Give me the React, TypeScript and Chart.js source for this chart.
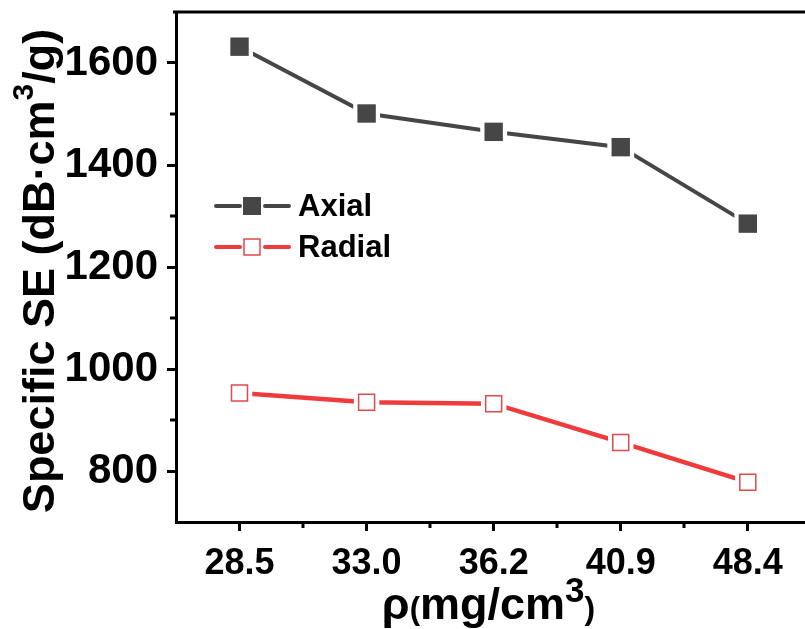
import React, { useEffect, useRef } from "react";
import { Chart, registerables } from "chart.js";

Chart.register(...registerables);

const densities = ["28.5", "33.0", "36.2", "40.9", "48.4"];
const axialSE = [1632, 1501, 1465, 1435, 1285];
const radialSE = [953, 935, 932, 856, 778];
const yMajorTicks = [800, 1000, 1200, 1400, 1600];
const yMinorTicks = [900, 1100, 1300, 1500];
const xMinorTicks = [0.5, 1.5, 2.5, 3.5];
const seriesNames = ["Axial", "Radial"];

const FONT = '"Liberation Sans", Arial, sans-serif';
const AXIAL_COLOR = "#464646";
const RADIAL_LINE = "#ef3b3b";
const RADIAL_MARK = "#e04a4a";

type Run = { text: string; size: number; raise?: number };

function runsWidth(ctx: CanvasRenderingContext2D, runs: Run[]) {
  let w = 0;
  for (const r of runs) {
    ctx.font = `bold ${r.size}px ${FONT}`;
    w += ctx.measureText(r.text).width;
  }
  return w;
}

function drawRuns(ctx: CanvasRenderingContext2D, runs: Run[], x: number, y: number) {
  let cx = x;
  ctx.textBaseline = "alphabetic";
  ctx.textAlign = "left";
  for (const r of runs) {
    ctx.font = `bold ${r.size}px ${FONT}`;
    ctx.fillText(r.text, cx, y - (r.raise || 0));
    cx += ctx.measureText(r.text).width;
  }
}

const decorPlugin = {
  id: "decor",
  afterDraw(chart: any) {
    const ctx: CanvasRenderingContext2D = chart.ctx;
    const area = chart.chartArea;
    const xs = chart.scales.x;
    const ys = chart.scales.y;
    ctx.save();
    ctx.strokeStyle = "#000";
    // top border
    ctx.lineWidth = 3;
    ctx.beginPath();
    ctx.moveTo(area.left - 3, area.top);
    ctx.lineTo(area.right, area.top);
    ctx.stroke();
    // minor ticks
    ctx.lineWidth = 3;
    for (const v of xMinorTicks) {
      const px = Math.round(xs.getPixelForValue(v));
      ctx.beginPath();
      ctx.moveTo(px, area.bottom);
      ctx.lineTo(px, area.bottom + 6);
      ctx.stroke();
    }
    for (const v of yMinorTicks) {
      const py = Math.round(ys.getPixelForValue(v));
      ctx.beginPath();
      ctx.moveTo(area.left, py);
      ctx.lineTo(area.left - 6, py);
      ctx.stroke();
    }
    // legend
    const rows = [
      { name: seriesNames[0], line: AXIAL_COLOR, fill: AXIAL_COLOR, stroke: null as string | null, y: 206 },
      { name: seriesNames[1], line: RADIAL_LINE, fill: "#ffffff", stroke: RADIAL_MARK, y: 247 },
    ];
    for (const r of rows) {
      ctx.strokeStyle = r.line;
      ctx.lineWidth = 4;
      ctx.lineCap = "round";
      ctx.beginPath();
      ctx.moveTo(216, r.y);
      ctx.lineTo(240, r.y);
      ctx.moveTo(265, r.y);
      ctx.lineTo(289, r.y);
      ctx.stroke();
      ctx.lineCap = "butt";
      if (r.stroke) {
        ctx.fillStyle = r.fill;
        ctx.fillRect(244, r.y - 8, 16, 16);
        ctx.strokeStyle = r.stroke;
        ctx.lineWidth = 1.5;
        ctx.strokeRect(244, r.y - 8, 16, 16);
      } else {
        ctx.fillStyle = r.fill;
        ctx.fillRect(243, r.y - 9, 18, 18);
      }
      ctx.fillStyle = "#000";
      ctx.font = `bold 31px ${FONT}`;
      ctx.textBaseline = "middle";
      ctx.textAlign = "left";
      ctx.fillText(r.name, 298, r.y + 1);
    }
    // x title
    ctx.fillStyle = "#000";
    const xRuns: Run[] = [
      { text: "ρ", size: 45 },
      { text: "(", size: 31 },
      { text: "mg/cm", size: 45 },
      { text: "3", size: 35, raise: 17 },
      { text: ")", size: 32 },
    ];
    const xw = runsWidth(ctx, xRuns);
    const xc = (area.left + area.right) / 2 - 2;
    drawRuns(ctx, xRuns, xc - xw / 2, 619);
    // y title
    const yRuns: Run[] = [
      { text: "Specific SE (dB·cm", size: 45 },
      { text: "3", size: 30, raise: 21 },
      { text: "/g)", size: 45 },
    ];
    const yw = runsWidth(ctx, yRuns);
    ctx.translate(54, (area.top + area.bottom) / 2 + 4);
    ctx.rotate(-Math.PI / 2);
    drawRuns(ctx, yRuns, -yw / 2, 0);
    ctx.restore();
  },
};

export default function App() {
  const ref = useRef<HTMLCanvasElement>(null);
  useEffect(() => {
    if (!ref.current) return;
    const axialPts = axialSE.map((v, i) => ({ x: i, y: v }));
    const radialPts = radialSE.map((v, i) => ({ x: i, y: v }));
    const chart = new Chart(ref.current, {
      type: "line",
      data: {
        datasets: [
          {
            label: seriesNames[0] + " line",
            data: axialPts,
            borderColor: AXIAL_COLOR,
            borderWidth: 4,
            pointStyle: "rect",
            pointRadius: 19,
            pointBackgroundColor: "#ffffff",
            pointBorderWidth: 0,
            pointBorderColor: "rgba(0,0,0,0)",
            order: 3,
          },
          {
            label: seriesNames[1] + " line",
            data: radialPts,
            borderColor: RADIAL_LINE,
            borderWidth: 4.5,
            pointStyle: "rect",
            pointRadius: 18,
            pointBackgroundColor: "#ffffff",
            pointBorderWidth: 0,
            pointBorderColor: "rgba(0,0,0,0)",
            order: 3,
          },
          {
            label: seriesNames[0],
            data: axialPts,
            showLine: false,
            pointStyle: "rect",
            pointRadius: 13,
            pointBackgroundColor: AXIAL_COLOR,
            pointBorderWidth: 0,
            pointBorderColor: AXIAL_COLOR,
            order: 1,
          },
          {
            label: seriesNames[1],
            data: radialPts,
            showLine: false,
            pointStyle: "rect",
            pointRadius: 11.3,
            pointBackgroundColor: "#ffffff",
            pointBorderWidth: 1.5,
            pointBorderColor: RADIAL_MARK,
            order: 1,
          },
        ],
      },
      options: {
        animation: false,
        responsive: false,
        devicePixelRatio: 1,
        layout: { autoPadding: false, padding: { top: 12, left: 0, right: 0, bottom: 0 } },
        plugins: { legend: { display: false }, tooltip: { enabled: false }, title: { display: false } },
        events: [],
        scales: {
          x: {
            type: "linear",
            min: -0.5,
            max: 4.45,
            afterFit: (s: any) => {
              s.height = 107;
              s.paddingLeft = 0;
              s.paddingRight = 0;
            },
            afterBuildTicks: (s: any) => {
              s.ticks = densities.map((_, i) => ({ value: i }));
            },
            border: { display: true, color: "#000", width: 3 },
            grid: { display: true, drawOnChartArea: false, drawTicks: true, tickLength: 9, tickWidth: 3, tickColor: "#000" },
            ticks: {
              autoSkip: false,
              maxRotation: 0,
              padding: 11,
              color: "#000",
              font: { family: FONT, size: 36, weight: "bold" },
              callback: (v: any) => densities[Math.round(Number(v))] ?? "",
            },
          },
          y: {
            type: "linear",
            min: 700,
            max: 1700,
            afterFit: (s: any) => {
              s.width = 176;
              s.paddingTop = 0;
              s.paddingBottom = 0;
            },
            afterBuildTicks: (s: any) => {
              s.ticks = yMajorTicks.map((v) => ({ value: v }));
            },
            border: { display: true, color: "#000", width: 3 },
            grid: { display: true, drawOnChartArea: false, drawTicks: true, tickLength: 9, tickWidth: 3, tickColor: "#000" },
            ticks: {
              padding: 9,
              color: "#000",
              font: { family: FONT, size: 42, weight: "bold" },
              callback: (v: any) => String(v),
            },
          },
        },
      },
      plugins: [decorPlugin],
    } as any);
    return () => chart.destroy();
  }, []);
  return (
    <div style={{ position: "fixed", left: 0, top: 0, width: 805, height: 629, background: "#fff" }}>
      <canvas ref={ref} width={805} height={629} style={{ width: 805, height: 629, display: "block" }} />
    </div>
  );
}
